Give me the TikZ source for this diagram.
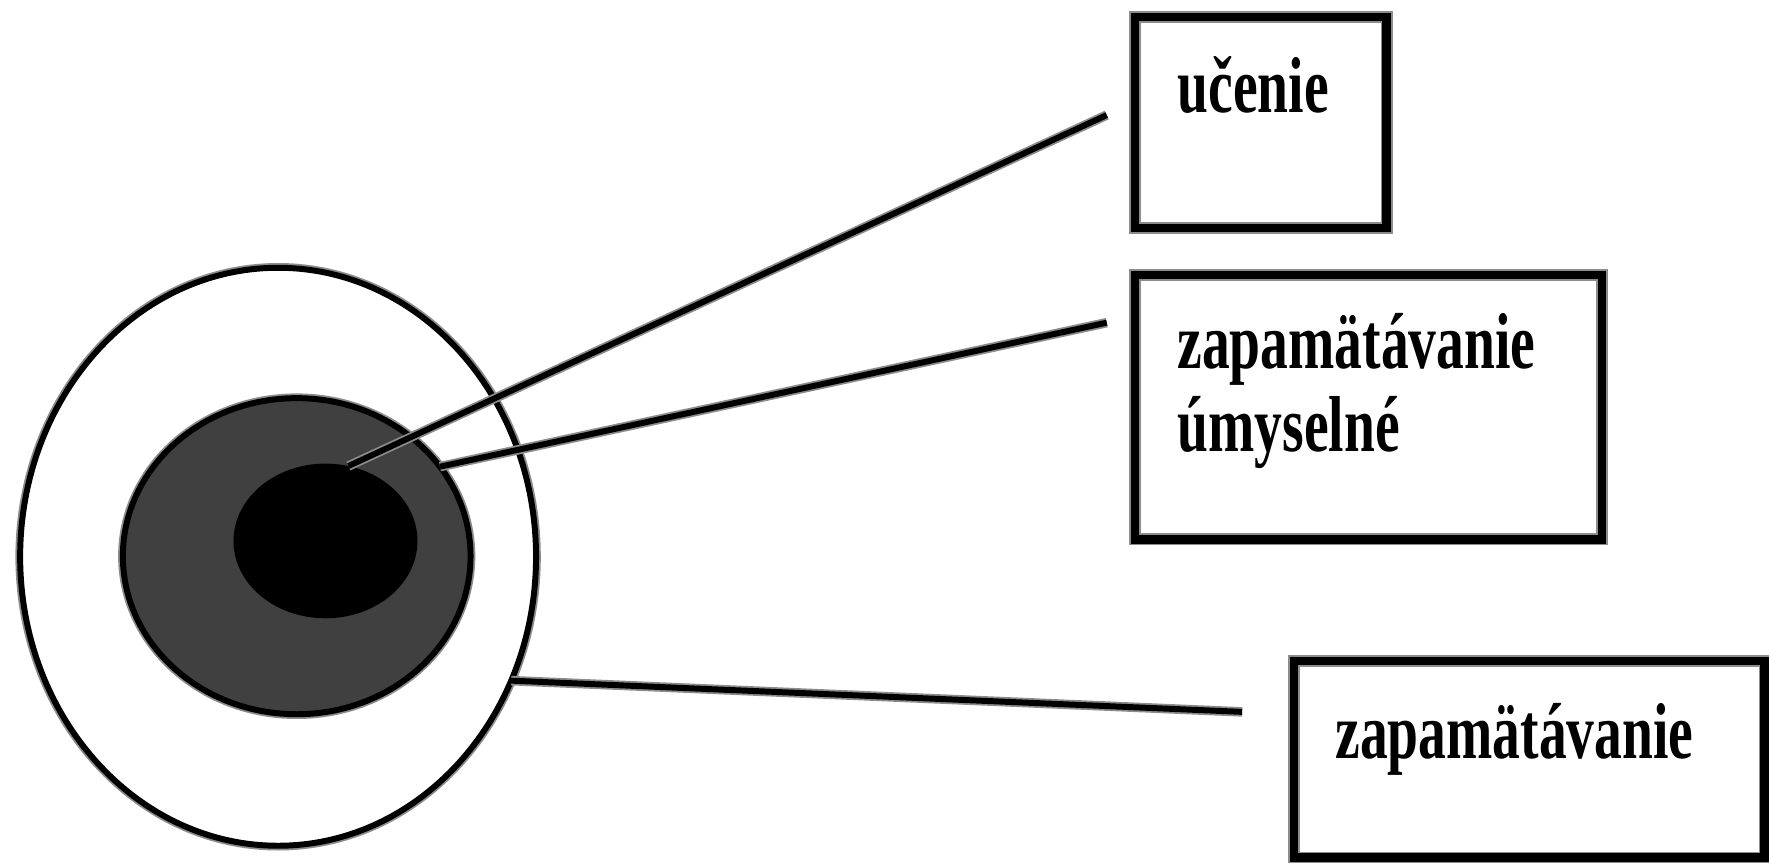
\documentclass[tikz,border=0pt]{standalone}
\usepackage{fontspec}
\usepackage{graphicx}
\setmainfont{Liberation Serif}
\usetikzlibrary{shapes.geometric}
\tikzset{
  halo/.style={preaction={draw=black!45, line width=2.4pt}},
  ring/.style={ellipse, draw, line width=1.5pt, inner sep=0pt, outer sep=0pt, halo},
  boxnode/.style={rectangle, draw, line width=2.1pt, inner sep=0pt, outer sep=0pt, preaction={draw=black!45, line width=3pt}},
  conn/.style={line width=1.5pt, halo},
  lbl/.style={anchor=base west, inner sep=0pt, font=\fontsize{20}{24}\selectfont\bfseries}
}
\newcommand{\sq}[1]{\scalebox{0.7}[1]{#1}}
\begin{document}
\begin{tikzpicture}[x=0.01cm,y=-0.01cm]
\useasboundingbox (0,0) rectangle (1568,767);
% ellipses
\node[ring, fill=white, minimum width=4.57cm, minimum height=5.12cm] (outer) at (246.5,493.5) {};
\node[ring, fill=black!75, minimum width=3.08cm, minimum height=2.80cm] (mid) at (263,493) {};
\node[ellipse, fill=black, inner sep=0pt, outer sep=0pt, minimum width=1.63cm, minimum height=1.37cm] (inner) at (288.5,479.5) {};
% boxes
\node[boxnode, minimum width=2.23cm, minimum height=1.87cm] (b1) at (1117.5,108.5) {};
\node[boxnode, minimum width=4.14cm, minimum height=2.34cm] (b2) at (1213,361) {};
\node[boxnode, minimum width=4.17cm, minimum height=1.74cm] (b3) at (1355.5,673) {};
% texts
\node[lbl] (t1) at (1043,100) {\sq{učenie}};
\node[lbl] (t2a) at (1043,327) {\sq{zapamätávanie}};
\node[lbl] (t2b) at (1043,400) {\sq{úmyselné}};
\node[lbl] (t3) at (1183,672) {\sq{zapamätávanie}};
% connector end points
\coordinate (e1) at (981,102);
\coordinate (e2) at (981,286);
\coordinate (e3) at (1101,631);
% connectors
\draw[conn] (inner.73) -- (e1);
\draw[conn] (mid.32) -- (e2);
\draw[conn] (outer.-28) -- (e3);
\end{tikzpicture}
\end{document}
